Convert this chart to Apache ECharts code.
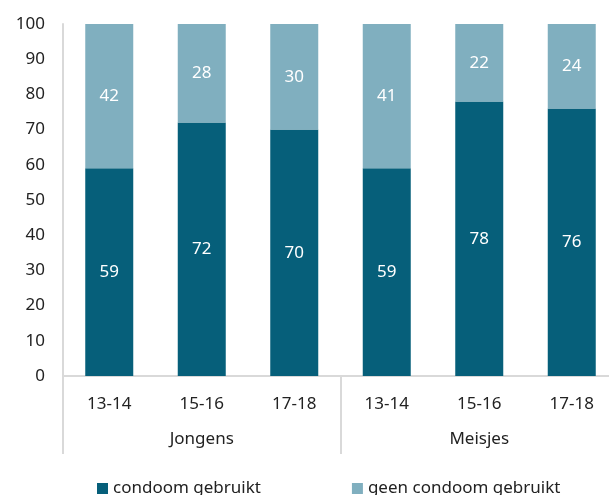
<!DOCTYPE html>
<html>
<head>
<meta charset="utf-8">
<script src="https://cdn.jsdelivr.net/npm/echarts@6/dist/echarts.min.js"></script>
<style>
  html, body { margin: 0; padding: 0; background: #fff; }
  #myChart { width: 609px; height: 495px; }
</style>
</head>
<body>
<div id="myChart"></div>
<script>
  // data
  let ageGroups = ['13-14', '15-16', '17-18', '13-14', '15-16', '17-18'];
  let genders = ['Jongens', 'Meisjes'];
  let condoomGebruikt = [59, 72, 70, 59, 78, 76];
  let geenCondoom = [42, 28, 30, 41, 22, 24];
  let yTicks = [0, 100, 10];

  let font = 'Noto Sans';
  let axisGray = '#d9d9d9';

  let myChart = echarts.init(document.getElementById('myChart'));
  myChart.setOption({
    animation: false,
    textStyle: { fontFamily: font },
    color: ['#065f7a', '#80afbf'],
    // plot runs a bit past the right edge, like the reference
    grid: { left: 63, width: 555, top: 24, bottom: 119, containLabel: false, outerBoundsMode: 'none' },
    legend: {
      top: 475,
      left: 92,
      itemWidth: 11,
      itemHeight: 11,
      itemGap: 91,
      icon: 'rect',
      textStyle: { fontFamily: font, fontSize: 17, color: '#222' },
      data: ['condoom gebruikt', 'geen condoom gebruikt']
    },
    xAxis: [
      {
        type: 'category',
        data: ageGroups,
        position: 'bottom',
        axisLine: { lineStyle: { color: axisGray, width: 2 } },
        axisTick: { show: false },
        axisLabel: { margin: 20, fontSize: 17, color: '#222', fontFamily: font }
      },
      {
        type: 'category',
        data: genders,
        position: 'bottom',
        axisLine: { show: false },
        axisTick: { show: true, length: 78, lineStyle: { color: axisGray, width: 2 } },
        axisLabel: { margin: 55, fontSize: 17, color: '#222', fontFamily: font }
      }
    ],
    yAxis: {
      type: 'value',
      min: yTicks[0],
      max: yTicks[1],
      interval: yTicks[2],
      axisLine: { show: true, lineStyle: { color: axisGray, width: 2 } },
      axisTick: { show: false },
      splitLine: { show: false },
      axisLabel: { margin: 18, fontSize: 17, color: '#222', fontFamily: font }
    },
    series: [
      {
        name: 'condoom gebruikt',
        type: 'bar',
        stack: 'totaal',
        barWidth: 48,
        data: condoomGebruikt,
        label: { show: true, position: 'inside', color: '#fff', fontSize: 17, fontFamily: font }
      },
      {
        name: 'geen condoom gebruikt',
        type: 'bar',
        stack: 'totaal',
        barWidth: 48,
        clip: true,
        data: geenCondoom,
        label: { show: true, position: 'inside', color: '#fff', fontSize: 17, fontFamily: font }
      }
    ]
  });
</script>
</body>
</html>
